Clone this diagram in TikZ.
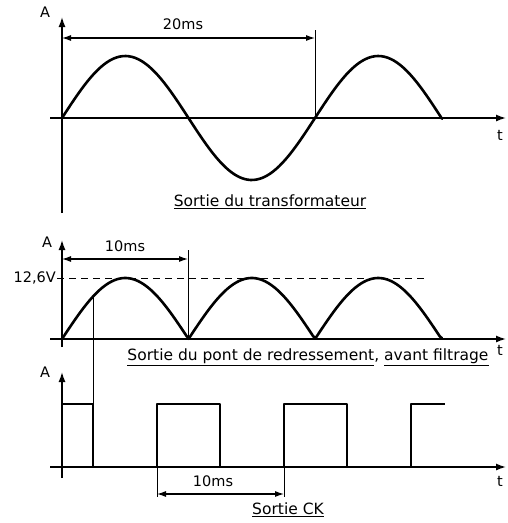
\documentclass[tikz,border=0pt]{standalone}
\usepackage{fontspec}
\setmainfont{DejaVu Sans}
\usetikzlibrary{arrows.meta}
\tikzset{
  axis/.style={line width=1.4pt, -{Latex[length=10pt,width=7pt]}},
  wave/.style={line width=2.6pt, line join=round, line cap=round},
  dimline/.style={line width=1.1pt, {Latex[length=9pt,width=6pt]}-{Latex[length=9pt,width=6pt]}},
  guide/.style={line width=0.9pt},
  lbl/.style={font=\fontsize{14.5}{17}\selectfont, inner sep=1pt},
  caption/.style={font=\fontsize{15.5}{18}\selectfont, inner sep=1pt},
}
\begin{document}
\begin{tikzpicture}[x=1pt,y=-1pt]
    \useasboundingbox (0,0) rectangle (508,523);
    % Sortie du transformateur
    \coordinate (y1b) at (62,213); \coordinate (y1t) at (62,17);
    \coordinate (x1l) at (50,118); \coordinate (x1r) at (506,118);
    \draw[axis] (y1b) -- (y1t);
    \draw[axis] (x1l) -- (x1r);
    \node[lbl] (a1) at (45,12) {A};
    \node[lbl] (t1) at (500,135) {t};
    \draw[wave] plot[domain=62:442, samples=120] (\x, {118-62*sin((\x-62)*1.42292)});
    \coordinate (d1l) at (62,38); \coordinate (d1r) at (315,38);
    \coordinate (g1t) at (315,30); \coordinate (g1b) at (315,118);
    \draw[dimline] (d1l) -- (d1r);
    \draw[guide] (g1t) -- (g1b);
    \node[lbl] (p1) at (183,24) {20ms};
    \node[caption] (c1) at (270,202) {\underline{Sortie du transformateur}};

    % Sortie du pont
    \coordinate (y2b) at (62,347); \coordinate (y2t) at (62,240);
    \coordinate (x2l) at (50,339); \coordinate (x2r) at (506,339);
    \draw[axis] (y2b) -- (y2t);
    \draw[axis] (x2l) -- (x2r);
    \node[lbl] (a2) at (47,242) {A};
    \node[lbl] (t2) at (500,350) {t};
    \draw[wave] plot[domain=62:442, samples=160] (\x, {339-61*abs(sin((\x-62)*1.42292))});
    \node[lbl, anchor=east] (v2) at (57,278) {12,6V};
    \draw[dashed, line width=1pt, dash pattern=on 7pt off 5pt] (v2.east) -- (425,278);
    \coordinate (d2l) at (62,259); \coordinate (d2r) at (188,259);
    \coordinate (g2t) at (188,250); \coordinate (g2b) at (188,339);
    \draw[dimline] (d2l) -- (d2r);
    \draw[guide] (g2t) -- (g2b);
    \node[lbl] (p2) at (125,246) {10ms};
    \node[caption] (c2) at (308,357) {\underline{Sortie du pont de redressement}, \underline{avant filtrage}};
    \coordinate (s2) at (93,297);

    % Sortie CK
    \coordinate (y3b) at (62,478); \coordinate (y3t) at (62,372);
    \coordinate (x3l) at (50,467); \coordinate (x3r) at (506,467);
    \draw[axis] (y3b) -- (y3t);
    \draw[axis] (x3l) -- (x3r);
    \node[lbl] (a3) at (45,372) {A};
    \node[lbl] (t3) at (500,481) {t};
    \coordinate (s3) at (93,404);
    \draw[guide] (s2) -- (s3);
    \draw[wave, line width=2.2pt, line cap=butt] (62,404) -- (93,404) -- (93,467) -- (157,467) -- (157,404) -- (220,404) -- (220,467)
        -- (284,467) -- (284,404) -- (347,404) -- (347,467) -- (411,467) -- (411,404) -- (445,404);
    \coordinate (d3l) at (157,494); \coordinate (d3r) at (284,494);
    \draw[guide] (157,467) -- (157,497);
    \draw[guide] (284,467) -- (284,497);
    \draw[dimline] (d3l) -- (d3r);
    \node[lbl] (p3) at (213,481) {10ms};
    \node[caption] (c3) at (288,510) {\underline{Sortie CK}};
\end{tikzpicture}
\end{document}
